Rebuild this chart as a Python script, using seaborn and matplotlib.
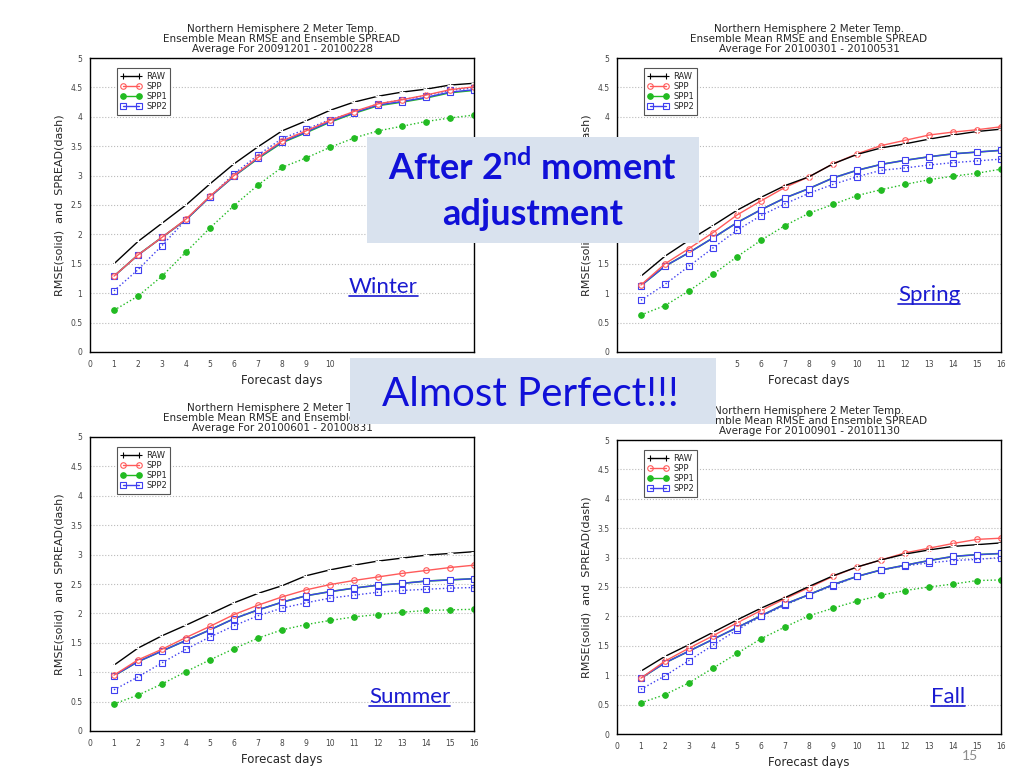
import matplotlib
matplotlib.use("Agg")
import matplotlib.pyplot as plt
import seaborn as sns
from matplotlib.patches import Rectangle
from matplotlib.lines import Line2D
from matplotlib.ticker import FuncFormatter

days = list(range(1, 17))

# Winter 20091201 - 20100228
winter_raw = [1.50, 1.88, 2.19, 2.50, 2.86, 3.20, 3.49, 3.76, 3.93, 4.11, 4.25, 4.35, 4.42, 4.47, 4.54, 4.57]
winter_spp = [1.29, 1.65, 1.95, 2.26, 2.65, 3.00, 3.31, 3.59, 3.76, 3.94, 4.09, 4.22, 4.29, 4.37, 4.46, 4.51]
winter_spp1 = [1.29, 1.65, 1.95, 2.25, 2.64, 2.99, 3.29, 3.56, 3.73, 3.91, 4.06, 4.19, 4.25, 4.32, 4.41, 4.45]
winter_spp2 = [1.29, 1.65, 1.95, 2.25, 2.64, 2.99, 3.30, 3.57, 3.74, 3.92, 4.07, 4.20, 4.26, 4.33, 4.42, 4.46]
winter_spp1_spread = [0.71, 0.95, 1.29, 1.70, 2.11, 2.49, 2.84, 3.14, 3.30, 3.48, 3.64, 3.76, 3.84, 3.92, 3.98, 4.03]
winter_spp2_spread = [1.04, 1.40, 1.81, 2.25, 2.64, 3.03, 3.35, 3.63, 3.79, 3.95, 4.08, 4.22, 4.29, 4.36, 4.45, 4.49]

# Spring 20100301 - 20100531
spring_raw = [1.29, 1.63, 1.90, 2.15, 2.41, 2.63, 2.83, 2.98, 3.20, 3.36, 3.47, 3.54, 3.62, 3.69, 3.75, 3.79]
spring_spp = [1.14, 1.50, 1.76, 2.03, 2.33, 2.57, 2.80, 2.98, 3.20, 3.37, 3.51, 3.60, 3.69, 3.74, 3.78, 3.83]
spring_spp1 = [1.13, 1.46, 1.69, 1.94, 2.20, 2.42, 2.62, 2.78, 2.96, 3.09, 3.19, 3.26, 3.32, 3.37, 3.40, 3.43]
spring_spp2 = [1.13, 1.46, 1.69, 1.94, 2.20, 2.42, 2.62, 2.78, 2.96, 3.09, 3.19, 3.26, 3.32, 3.37, 3.40, 3.43]
spring_spp1_spread = [0.63, 0.79, 1.04, 1.32, 1.62, 1.90, 2.15, 2.36, 2.51, 2.66, 2.76, 2.85, 2.93, 2.99, 3.04, 3.11]
spring_spp2_spread = [0.88, 1.15, 1.46, 1.77, 2.07, 2.32, 2.52, 2.70, 2.85, 2.98, 3.09, 3.13, 3.18, 3.22, 3.25, 3.28]

# Summer 20100601 - 20100831
summer_raw = [1.12, 1.41, 1.62, 1.80, 1.99, 2.18, 2.34, 2.47, 2.64, 2.74, 2.82, 2.89, 2.94, 2.99, 3.02, 3.05]
summer_spp = [0.95, 1.21, 1.39, 1.59, 1.78, 1.98, 2.14, 2.28, 2.40, 2.49, 2.56, 2.62, 2.68, 2.73, 2.78, 2.82]
summer_spp1 = [0.94, 1.18, 1.36, 1.54, 1.72, 1.91, 2.06, 2.19, 2.30, 2.37, 2.43, 2.48, 2.51, 2.55, 2.57, 2.59]
summer_spp2 = [0.94, 1.18, 1.36, 1.54, 1.72, 1.91, 2.06, 2.19, 2.30, 2.37, 2.43, 2.48, 2.51, 2.55, 2.57, 2.59]
summer_spp1_spread = [0.46, 0.61, 0.80, 1.01, 1.21, 1.40, 1.58, 1.72, 1.81, 1.88, 1.94, 1.98, 2.02, 2.05, 2.06, 2.07]
summer_spp2_spread = [0.70, 0.92, 1.16, 1.39, 1.60, 1.79, 1.96, 2.09, 2.18, 2.26, 2.31, 2.36, 2.39, 2.41, 2.43, 2.44]

# Fall 20100901 - 20101130
fall_raw = [1.07, 1.32, 1.52, 1.73, 1.94, 2.14, 2.32, 2.51, 2.69, 2.84, 2.96, 3.06, 3.13, 3.19, 3.22, 3.25]
fall_spp = [0.95, 1.24, 1.46, 1.67, 1.89, 2.10, 2.30, 2.49, 2.68, 2.84, 2.96, 3.08, 3.16, 3.24, 3.31, 3.33]
fall_spp1 = [0.95, 1.21, 1.41, 1.61, 1.81, 2.01, 2.21, 2.37, 2.54, 2.68, 2.79, 2.87, 2.95, 3.02, 3.05, 3.07]
fall_spp2 = [0.95, 1.21, 1.41, 1.61, 1.81, 2.01, 2.21, 2.37, 2.54, 2.68, 2.79, 2.87, 2.95, 3.02, 3.05, 3.07]
fall_spp1_spread = [0.53, 0.67, 0.87, 1.12, 1.37, 1.62, 1.82, 2.01, 2.14, 2.26, 2.36, 2.44, 2.50, 2.55, 2.61, 2.62]
fall_spp2_spread = [0.76, 0.99, 1.25, 1.51, 1.77, 2.00, 2.19, 2.37, 2.52, 2.68, 2.79, 2.86, 2.91, 2.95, 2.97, 3.00]

periods = ["20091201 - 20100228", "20100301 - 20100531", "20100601 - 20100831", "20100901 - 20101130"]
season_names = ["Winter", "Spring", "Summer", "Fall"]

sns.set_style("white")
plt.rcParams['font.family'] = ['DejaVu Sans']
plt.rcParams['mathtext.fontset'] = 'custom'
plt.rcParams['mathtext.rm'] = 'Lato:bold'

fig = plt.figure(figsize=(10.24, 7.68), dpi=100)
W, H = 1024, 768

C_RAW, C_SPP, C_SPP1, C_SPP2 = "black", "#ff5a5a", "#22bb22", "#3f3ff0"

# axes boxes in pixels: left, top, right, bottom
boxes = [(90, 58, 474, 352), (617, 58, 1001, 352), (90, 437, 474, 731), (617, 440, 1001, 734)]
seasons = [
    (winter_raw, winter_spp, winter_spp1, winter_spp2, winter_spp1_spread, winter_spp2_spread),
    (spring_raw, spring_spp, spring_spp1, spring_spp2, spring_spp1_spread, spring_spp2_spread),
    (summer_raw, summer_spp, summer_spp1, summer_spp2, summer_spp1_spread, summer_spp2_spread),
    (fall_raw, fall_spp, fall_spp1, fall_spp2, fall_spp1_spread, fall_spp2_spread),
]

for (l, t, r, b), vals, period in zip(boxes, seasons, periods):
    ax = fig.add_axes([l / W, 1 - b / H, (r - l) / W, (b - t) / H])
    raw, spp, spp1, spp2, spp1_s, spp2_s = vals
    mk = dict(markersize=4, markeredgewidth=0.8, linewidth=1)
    # spread (dotted)
    sns.lineplot(x=days, y=spp1_s, ax=ax, color=C_SPP1, linestyle=":", marker="o",
                 markerfacecolor=C_SPP1, markeredgecolor=C_SPP1, **mk)
    sns.lineplot(x=days, y=spp2_s, ax=ax, color=C_SPP2, linestyle=":", marker="s",
                 markerfacecolor="none", markeredgecolor=C_SPP2, **mk)
    # rmse (solid) - SPP1 sits underneath SPP2
    sns.lineplot(x=days, y=spp1, ax=ax, color=C_SPP1, linestyle="-", linewidth=1.2)
    sns.lineplot(x=days, y=spp2, ax=ax, color=C_SPP2, linestyle="-", marker="s",
                 markerfacecolor="white", markeredgecolor=C_SPP2, **mk)
    sns.lineplot(x=days, y=spp, ax=ax, color=C_SPP, linestyle="-", marker="o",
                 markerfacecolor="none", markeredgecolor=C_SPP, **mk)
    sns.lineplot(x=days, y=raw, ax=ax, color=C_RAW, linestyle="-", marker="+", **mk)

    ax.set_xlim(0, 16)
    ax.set_ylim(0, 5)
    ax.set_xticks(range(0, 17))
    ax.set_yticks([i * 0.5 for i in range(11)])
    ax.yaxis.set_major_formatter(FuncFormatter(lambda v, p: f"{v:g}"))
    ax.tick_params(labelsize=5.5, labelcolor="#444444", length=2, width=0.6, direction="out")
    ax.grid(axis="y", linestyle=":", color="#bbbbbb", linewidth=0.8)
    for s in ax.spines.values():
        s.set_color("black")
        s.set_linewidth(1)
    ax.set_xlabel("Forecast days", fontsize=8.5)
    ax.set_ylabel("RMSE(solid)  and  SPREAD(dash)", fontsize=8)
    ax.set_title("Northern Hemisphere 2 Meter Temp.\nEnsemble Mean RMSE and Ensemble SPREAD\nAverage For " + period,
                 fontsize=7.5, linespacing=1.0, pad=4)

    handles = [
        Line2D([], [], color=C_RAW, marker="+", **mk),
        Line2D([], [], color=C_SPP, marker="o", markerfacecolor="none", **mk),
        Line2D([], [], color=C_SPP1, marker="o", **mk),
        Line2D([], [], color=C_SPP2, marker="s", markerfacecolor="none", **mk),
    ]
    leg = ax.legend(handles, ["RAW", "SPP", "SPP1", "SPP2"], loc="upper left", bbox_to_anchor=(0.07, 0.965),
                    borderaxespad=0, fancybox=False, edgecolor="#555555", framealpha=1, fontsize=6,
                    handlelength=2.6, labelspacing=0.15, numpoints=2, borderpad=0.4, handletextpad=0.5)
    leg.get_frame().set_linewidth(0.8)

# overlay boxes
box_col = "#d9e2ee"
fig.add_artist(Rectangle((367 / W, 1 - 243 / H), (699 - 367) / W, (243 - 137) / H,
                         transform=fig.transFigure, facecolor=box_col, edgecolor="none", zorder=5))
fig.add_artist(Rectangle((350 / W, 1 - 424 / H), (716 - 350) / W, (424 - 358) / H,
                         transform=fig.transFigure, facecolor=box_col, edgecolor="none", zorder=5))

txt_blue = "#1010d8"
fig.text(533 / W, 1 - 180 / H, r"After 2$^{\mathrm{nd}}$ moment", ha="center", va="baseline",
         fontsize=26, fontweight="bold", family="Lato", color=txt_blue, zorder=6)
fig.text(533 / W, 1 - 225 / H, "adjustment", ha="center", va="baseline",
         fontsize=26, fontweight="bold", family="Lato", color=txt_blue, zorder=6)
fig.text(530 / W, 1 - 406 / H, "Almost Perfect!!!", ha="center", va="baseline",
         fontsize=29, family="Lato", color=txt_blue, zorder=6)

# season labels (underlined)
label_pos = [(349, 293), (898, 301), (369, 703), (931, 703)]
season_texts = []
for name, (x, y) in zip(season_names, label_pos):
    season_texts.append(fig.text(x / W, 1 - y / H, name, ha="left", va="baseline",
                                 fontsize=16, family="Lato", color="#1a1ad0", zorder=6))

fig.text(970 / W, 1 - 760 / H, "15", ha="center", va="baseline", fontsize=10, family="Lato", color="#8c8c8c")

fig.canvas.draw()
inv = fig.transFigure.inverted()
for txt, (x, y) in zip(season_texts, label_pos):
    bb = txt.get_window_extent()
    x0, _ = inv.transform((bb.x0, 0))
    x1, _ = inv.transform((bb.x1, 0))
    yy = 1 - (y + 3) / H
    fig.add_artist(Line2D([x0, x1], [yy, yy], transform=fig.transFigure, color="#1a1ad0", linewidth=1.2, zorder=6))

fig.savefig("out.png", dpi=100)
